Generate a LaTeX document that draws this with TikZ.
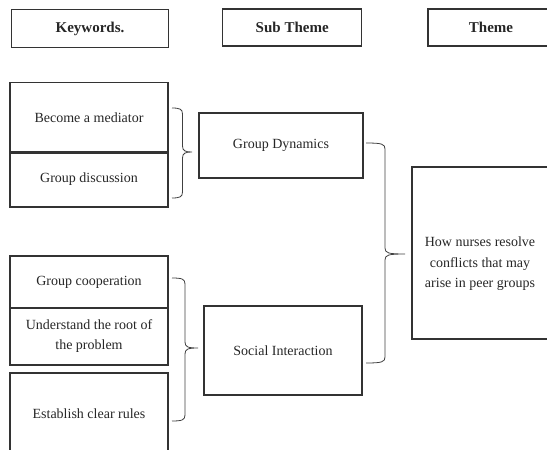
\documentclass[tikz,border=0pt]{standalone}
\usepackage{fontspec}
\setmainfont{Liberation Serif}
\begin{document}
\begin{tikzpicture}[x=1pt,y=-1pt,
  box/.style={draw=black!80, line width=1.3pt, rectangle, inner sep=0pt, text=black!85,
    font=\fontsize{14}{20}\selectfont, align=center},
  head/.style={box, font=\fontsize{15}{18}\selectfont\bfseries},
  txt/.style={inner sep=0pt, text=black!85, font=\fontsize{14}{20.5}\selectfont, align=center},
  bracestyle/.style={draw=black!75, line width=0.8pt}]
\useasboundingbox (0,0) rectangle (547,450);
\clip (0,0) rectangle (547,450);
\newcommand\dobrace[7]{%
  \draw[bracestyle] (#1,#4) .. controls ({#2-3},#4) and (#2,{#4+1}) .. (#2,{#4+6})
    -- (#2,{#5-6}) .. controls (#2,{#5-1}) and ({#2+3},#5) .. (#3,#5)
    coordinate (#7)
    .. controls ({#2+3},#5) and (#2,{#5+1}) .. (#2,{#5+6})
    -- (#2,{#6-6}) .. controls (#2,{#6-1}) and ({#2-3},#6) .. (#1,#6);}
% headers
\node[head, minimum width=157pt, minimum height=38pt] (hkey) at (90,28.6) {Keywords.};
\node[head, minimum width=139pt, minimum height=37pt] (hsub) at (292.2,27.4) {Sub Theme};
\node[head, minimum width=126pt, minimum height=37pt] (hthm) at (491,27.4) {Theme};
% keywords
\node[box, minimum width=158pt, minimum height=71pt] (k1) at (89,118) {Become a mediator};
\node[box, minimum width=158pt, minimum height=55pt] (k2) at (89,179.5) {Group discussion};
\node[box, minimum width=158pt, minimum height=52pt] (k3) at (89,282) {Group cooperation};
\node[box, minimum width=158pt, minimum height=57pt] (k4) at (89,336.5) {Understand the root of\\the problem};
\node[box, minimum width=158pt, minimum height=82pt] (k5) at (89,414) {Establish clear rules};
% sub themes
\node[box, minimum width=164pt, minimum height=65pt] (s1) at (281,145.5) {Group Dynamics};
\node[box, minimum width=158pt, minimum height=89pt] (s2) at (283,350.5) {Social Interaction};
% theme
\node[box, minimum width=136pt, minimum height=172pt] (t1) at (480,253) {};
\node[txt] (t1txt) at (480,264) {How nurses resolve\\conflicts that may\\arise in peer groups};
% braces
\dobrace{172}{182.5}{192}{108}{152}{198}{b1}
\dobrace{172}{185}{198}{278}{348}{421}{b2}
\dobrace{366}{385}{405}{143}{254}{363}{b3}
\end{tikzpicture}
\end{document}
